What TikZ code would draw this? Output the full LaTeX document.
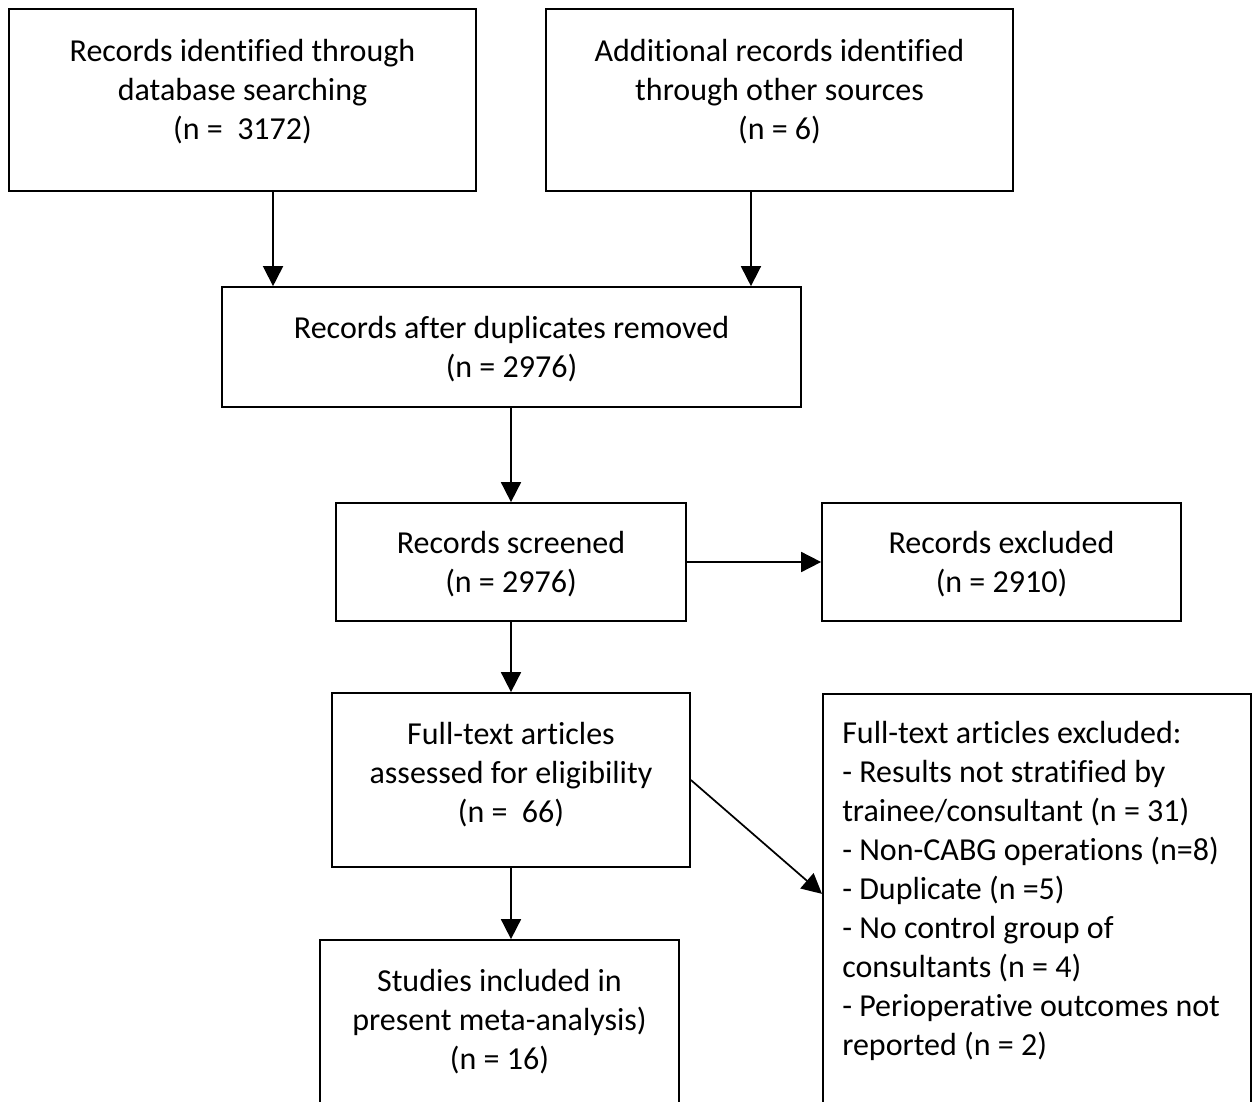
\documentclass[tikz,border=0pt]{standalone}
\usepackage{fontspec}
\setmainfont[Ligatures=NoCommon]{Carlito}
\usetikzlibrary{arrows.meta}

\begin{document}
\begin{tikzpicture}[x=0.75pt,y=0.75pt,yscale=-1,xscale=1,
    box/.style={draw, line width=1.3pt, align=center, inner sep=0pt, font=\fontsize{24}{29.25}\selectfont},
    txt/.style={align=left, inner sep=0pt, font=\fontsize{24}{29.25}\selectfont},
    arr/.style={line width=1.3pt, -{Triangle[length=15pt,width=15pt]}}]
        \useasboundingbox (0,0) rectangle (1253,1102); %page is 1253 x 1102
        \clip (0,0) rectangle (1253,1102);

        % Identification
        \node[box, minimum width=350.25pt, minimum height=136.5pt, text depth=15.5pt] (ident) at (242.5,100) {Records identified through\\database searching\\(n = \ 3172)};
        \node[box, minimum width=350.25pt, minimum height=136.5pt, text depth=15.5pt] (other) at (779.5,100) {Additional records identified\\through other sources\\(n = 6)};
        % Screening
        \node[box, minimum width=434.25pt, minimum height=90pt, text depth=0.5pt] (dedup) at (511.5,347) {Records after duplicates removed\\(n = 2976)};
        \node[box, minimum width=262.5pt, minimum height=88.5pt, text depth=0.5pt] (screen) at (511,562) {Records screened\\(n = 2976)};
        \node[box, minimum width=269.25pt, minimum height=88.5pt, text depth=0.5pt] (recexcl) at (1001.5,562) {Records excluded\\(n = 2910)};
        % Eligibility
        \node[box, minimum width=268.5pt, minimum height=130.5pt, text depth=11pt] (full) at (511,780) {Full-text articles\\assessed for eligibility\\(n = \ 66)};
        \node[box, anchor=north west, minimum width=321pt, minimum height=330pt] (fullexcl) at (822,693) {};
        \node[txt, anchor=north west] (fullexcltxt) at (842,721) {Full-text articles excluded:\\- Results not stratified by\\trainee/consultant (n = 31)\\- Non-CABG operations (n=8)\\- Duplicate (n =5)\\- No control group of\\consultants (n = 4)\\- Perioperative outcomes not\\reported (n = 2)};
        % Included
        \node[box, minimum width=269.25pt, minimum height=123pt] (incl) at (499.5,1022) {Studies included in\\present meta-analysis)\\(n = 16)};

        % Arrows
        \draw[arr] ([xshift=22.9pt]ident.south) -- ([xshift=22.9pt]ident.south |- dedup.north);
        \draw[arr] ([xshift=-21.4pt]other.south) -- ([xshift=-21.4pt]other.south |- dedup.north);
        \draw[arr] (dedup.south -| screen) -- (screen.north);
        \draw[arr] (screen.east) -- (recexcl.west);
        \draw[arr] (screen.south) -- (full.north);
        \draw[arr] (full.east) -- ([yshift=-15pt]fullexcl.west);
        \draw[arr] (full.south) -- (full.south |- incl.north);

\end{tikzpicture}
\end{document}
